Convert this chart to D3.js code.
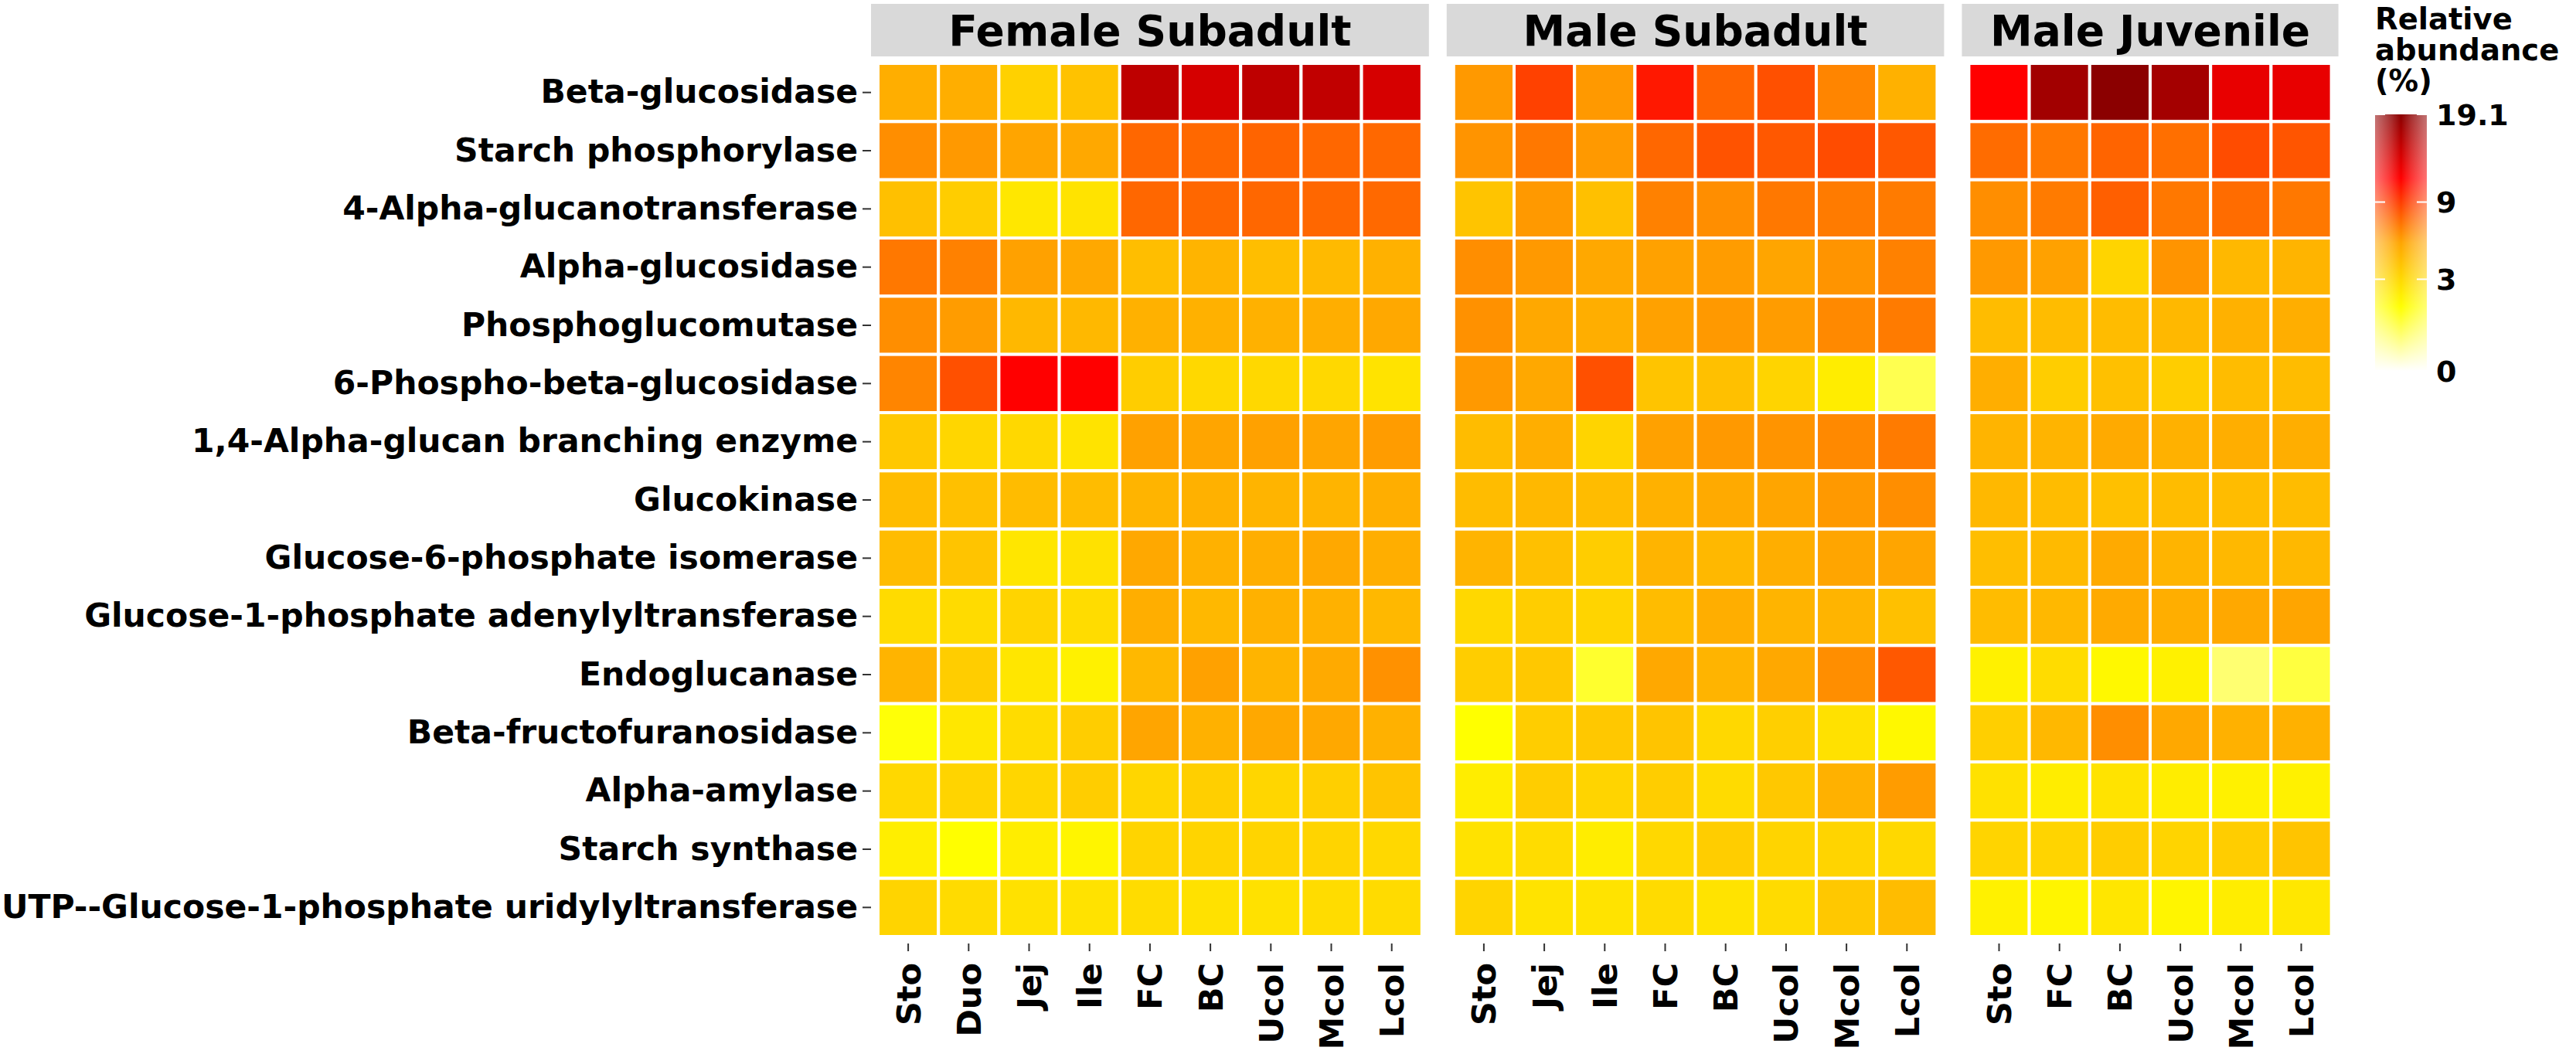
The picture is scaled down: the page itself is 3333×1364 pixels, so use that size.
<!DOCTYPE html>
<html>
<head>
<meta charset="utf-8">
<script src="https://cdnjs.cloudflare.com/ajax/libs/d3/7.8.5/d3.min.js"></script>
<style>
  body { margin: 0; background: #fff; }
  text { font-family: "DejaVu Sans", sans-serif; font-weight: bold; }
</style>
</head>
<body>
<svg id="chart" width="3333" height="1364"></svg>
<script>
// enzymes, top to bottom
const enzymes = [
  "Beta-glucosidase", "Starch phosphorylase", "4-Alpha-glucanotransferase",
  "Alpha-glucosidase", "Phosphoglucomutase", "6-Phospho-beta-glucosidase",
  "1,4-Alpha-glucan branching enzyme", "Glucokinase", "Glucose-6-phosphate isomerase",
  "Glucose-1-phosphate adenylyltransferase", "Endoglucanase", "Beta-fructofuranosidase",
  "Alpha-amylase", "Starch synthase", "UTP--Glucose-1-phosphate uridylyltransferase"
];

const groups = ["Female Subadult", "Male Subadult", "Male Juvenile"];
const femaleSites = ["Sto", "Duo", "Jej", "Ile", "FC", "BC", "Ucol", "Mcol", "Lcol"];
const maleSubSites = ["Sto", "Jej", "Ile", "FC", "BC", "Ucol", "Mcol", "Lcol"];
const maleJuvSites = ["Sto", "FC", "BC", "Ucol", "Mcol", "Lcol"];

// relative abundance (%), one row per enzyme
const femaleSubadult = [
  [5.0, 5.0, 3.3, 4.0, 15.5, 14.0, 15.5, 15.3, 13.9],
  [6.2, 5.85, 5.5, 5.3, 7.5, 7.45, 7.6, 7.5, 7.45],
  [4.1, 3.5, 2.4, 2.55, 7.5, 7.5, 7.5, 7.5, 7.4],
  [6.9, 6.6, 5.6, 5.3, 4.2, 4.7, 4.2, 4.4, 4.85],
  [6.2, 5.75, 4.5, 4.5, 4.85, 4.85, 4.85, 5.0, 5.3],
  [6.5, 8.3, 11.4, 11.4, 3.5, 3.0, 3.0, 3.0, 2.55],
  [3.7, 3.1, 3.0, 2.55, 5.6, 5.5, 5.6, 5.5, 5.75],
  [4.3, 4.1, 4.3, 4.3, 4.7, 4.85, 4.7, 4.7, 5.0],
  [4.3, 3.9, 2.45, 2.65, 5.3, 4.85, 5.0, 5.3, 5.0],
  [2.9, 2.9, 3.2, 2.85, 5.0, 4.5, 4.85, 4.85, 4.5],
  [4.7, 3.5, 2.45, 2.06, 4.5, 5.6, 4.7, 5.2, 6.1],
  [1.5, 2.4, 2.85, 3.5, 5.5, 4.85, 5.3, 5.3, 4.85],
  [3.0, 3.2, 3.1, 3.5, 3.1, 3.4, 3.1, 3.4, 3.9],
  [2.15, 1.6, 2.2, 1.9, 3.2, 3.2, 3.2, 3.2, 3.0],
  [3.2, 2.9, 2.65, 2.6, 2.85, 2.65, 2.65, 2.85, 2.9]
];

const maleSubadult = [
  [5.85, 8.85, 5.85, 10.4, 7.6, 8.3, 6.5, 4.85],
  [6.0, 6.9, 5.85, 7.5, 8.2, 8.0, 8.45, 8.0],
  [3.9, 5.85, 4.1, 6.6, 6.2, 6.9, 6.8, 6.8],
  [6.2, 5.85, 5.3, 5.6, 5.75, 5.5, 6.0, 6.6],
  [6.1, 5.3, 5.0, 5.6, 5.85, 5.75, 6.35, 6.8],
  [5.85, 5.3, 8.3, 3.9, 4.1, 3.2, 2.2, 0.8],
  [4.3, 5.0, 3.2, 5.6, 5.85, 6.0, 6.35, 6.8],
  [4.3, 4.5, 4.3, 4.85, 5.2, 5.5, 5.85, 6.2],
  [4.7, 4.1, 3.5, 4.7, 4.5, 5.0, 5.5, 5.5],
  [3.0, 3.5, 3.2, 4.3, 5.0, 4.7, 4.7, 4.1],
  [3.5, 3.7, 1.1, 5.3, 4.7, 5.3, 6.2, 8.0],
  [1.58, 3.5, 3.7, 3.9, 3.0, 3.4, 2.65, 1.8],
  [2.2, 3.5, 3.2, 3.5, 2.9, 3.7, 4.85, 5.75],
  [2.6, 2.85, 2.2, 3.0, 3.5, 3.2, 3.2, 3.0],
  [3.2, 2.55, 2.55, 2.9, 2.55, 2.9, 3.7, 4.3]
];

const maleJuvenile = [
  [11.4, 17.4, 19.1, 17.3, 12.8, 12.8],
  [7.3, 6.9, 7.6, 7.2, 8.45, 8.1],
  [6.2, 6.8, 7.75, 6.9, 7.3, 6.9],
  [5.85, 5.6, 3.2, 6.0, 4.5, 4.7],
  [4.3, 4.3, 4.3, 4.5, 4.85, 5.0],
  [5.0, 3.5, 4.1, 3.5, 4.3, 4.3],
  [4.7, 4.7, 5.2, 4.85, 5.0, 5.0],
  [4.5, 4.3, 4.1, 4.3, 4.3, 4.3],
  [4.2, 4.4, 5.2, 4.7, 4.5, 4.5],
  [4.3, 4.5, 5.2, 5.0, 5.3, 5.5],
  [2.06, 2.85, 1.8, 2.06, 0.55, 0.94],
  [3.4, 4.5, 6.2, 5.3, 4.85, 4.85],
  [2.65, 2.2, 2.55, 2.2, 2.06, 2.06],
  [3.2, 3.2, 3.5, 3.2, 3.5, 3.9],
  [2.06, 1.9, 2.45, 1.9, 2.2, 2.4]
];

const legendBreaks = [0, 3, 9, 19.1];
const legendMax = 19.1;

const panels = [
  { name: groups[0], sites: femaleSites, values: femaleSubadult },
  { name: groups[1], sites: maleSubSites, values: maleSubadult },
  { name: groups[2], sites: maleJuvSites, values: maleJuvenile }
];

const svg = d3.select('#chart');

// colour: white -> yellow -> orange -> red -> darkred on a power-stretched value
const stretch = d3.scalePow().exponent(0.556).domain([0, legendMax]).range([0, 1]).clamp(true);
const ramp = d3.scaleLinear()
  .domain([0, 0.25, 0.5, 0.75, 1])
  .range(["#ffffff", "#ffff00", "#ffa500", "#ff0000", "#8b0000"]);
const fill = v => ramp(stretch(v));

const colW = 78.2;
const pad = 9;
const gap = 23;
const panelTop = 73;
const panelBottom = 1221;

const y = d3.scaleBand()
  .domain(enzymes)
  .range([panelTop + pad, panelBottom - pad]);

let left = 1127;
panels.forEach(p => {
  const x0 = left + pad;
  p.x = d3.scaleBand().domain(p.sites).range([x0, x0 + p.sites.length * colW]);
  p.left = left;
  p.right = x0 + p.sites.length * colW + pad;
  left = p.right + gap;
});

// strips
const strips = svg.append('g');
strips.selectAll('rect')
  .data(panels)
  .enter().append('rect')
  .attr('x', d => d.left)
  .attr('y', 5)
  .attr('width', d => d.right - d.left)
  .attr('height', panelTop - 5)
  .attr('fill', '#d9d9d9');
strips.selectAll('text')
  .data(panels)
  .enter().append('text')
  .attr('x', d => (d.left + d.right) / 2)
  .attr('y', 59)
  .attr('text-anchor', 'middle')
  .attr('font-size', 55)
  .attr('fill', '#000')
  .text(d => d.name);

// tiles
panels.forEach(p => {
  const cells = [];
  p.values.forEach((row, i) => row.forEach((v, j) => {
    cells.push({ enzyme: enzymes[i], site: p.sites[j], value: v });
  }));

  svg.append('g')
    .selectAll('rect')
    .data(cells)
    .enter().append('rect')
    .attr('x', d => p.x(d.site))
    .attr('y', d => y(d.enzyme))
    .attr('width', p.x.bandwidth())
    .attr('height', y.bandwidth())
    .attr('fill', d => fill(d.value))
    .attr('stroke', '#ffffff')
    .attr('stroke-width', 4);

  // x axis
  const xAxis = svg.append('g')
    .attr('transform', 'translate(0,' + panelBottom + ')')
    .call(d3.axisBottom(p.x).tickSize(10).tickSizeOuter(0).tickPadding(0));
  xAxis.select('.domain').remove();
  xAxis.selectAll('line').attr('stroke', '#333333').attr('stroke-width', 2);
  xAxis.selectAll('text')
    .attr('font-size', 43)
    .attr('fill', '#000')
    .attr('font-family', '"DejaVu Sans", sans-serif')
    .attr('font-weight', 'bold')
    .attr('text-anchor', 'end')
    .attr('transform', 'translate(0,25) rotate(-90)')
    .attr('x', 0)
    .attr('y', 0)
    .attr('dy', '0.36em');
});

// y axis on the first panel
const yAxis = svg.append('g')
  .attr('transform', 'translate(' + panels[0].left + ',0)')
  .call(d3.axisLeft(y).tickSize(11).tickSizeOuter(0).tickPadding(6));
yAxis.select('.domain').remove();
yAxis.selectAll('line').attr('stroke', '#333333').attr('stroke-width', 2);
yAxis.selectAll('text')
  .attr('font-size', 42.5)
  .attr('fill', '#000')
  .attr('font-family', '"DejaVu Sans", sans-serif')
  .attr('font-weight', 'bold');

// legend
const legX = 3073, barW = 67, barTop = 148, barBottom = 480;
const legY = d3.scalePow().exponent(0.556).domain([0, legendMax]).range([barBottom, barTop]);

const title = svg.append('text')
  .attr('x', legX)
  .attr('font-size', 38.5)
  .attr('fill', '#000');
["Relative", "abundance", "(%)"].forEach((s, i) => {
  title.append('tspan').attr('x', legX).attr('y', 38 + i * 40).text(s);
});

const defs = svg.append('defs');
const grad = defs.append('linearGradient')
  .attr('id', 'barGrad')
  .attr('x1', 0).attr('y1', 1).attr('x2', 0).attr('y2', 0);
d3.range(0, 1.0001, 0.05).forEach(t => {
  grad.append('stop').attr('offset', t).attr('stop-color', ramp(t));
});

const fade = defs.append('linearGradient')
  .attr('id', 'barFade')
  .attr('x1', 0).attr('y1', 0).attr('x2', 1).attr('y2', 0);
[[0, 0.55], [0.3, 0.8], [0.5, 1], [0.7, 0.8], [1, 0.55]].forEach(s => {
  fade.append('stop').attr('offset', s[0]).attr('stop-color', '#fff').attr('stop-opacity', s[1]);
});
defs.append('mask')
  .attr('id', 'barMask')
  .append('rect')
  .attr('x', legX).attr('y', barTop)
  .attr('width', barW).attr('height', barBottom - barTop)
  .attr('fill', 'url(#barFade)');

svg.append('rect')
  .attr('x', legX)
  .attr('y', barTop)
  .attr('width', barW)
  .attr('height', barBottom - barTop)
  .attr('fill', 'url(#barGrad)')
  .attr('mask', 'url(#barMask)');

const legTicks = svg.append('g');
legendBreaks.forEach(b => {
  const yy = legY(b);
  legTicks.append('line')
    .attr('x1', legX).attr('x2', legX + 13)
    .attr('y1', yy).attr('y2', yy)
    .attr('stroke', '#fff').attr('stroke-width', 2);
  legTicks.append('line')
    .attr('x1', legX + barW - 13).attr('x2', legX + barW)
    .attr('y1', yy).attr('y2', yy)
    .attr('stroke', '#fff').attr('stroke-width', 2);
  legTicks.append('text')
    .attr('x', legX + barW + 12)
    .attr('y', yy)
    .attr('dy', '0.36em')
    .attr('font-size', 38)
    .attr('fill', '#000')
    .text(b);
});
</script>
</body>
</html>
